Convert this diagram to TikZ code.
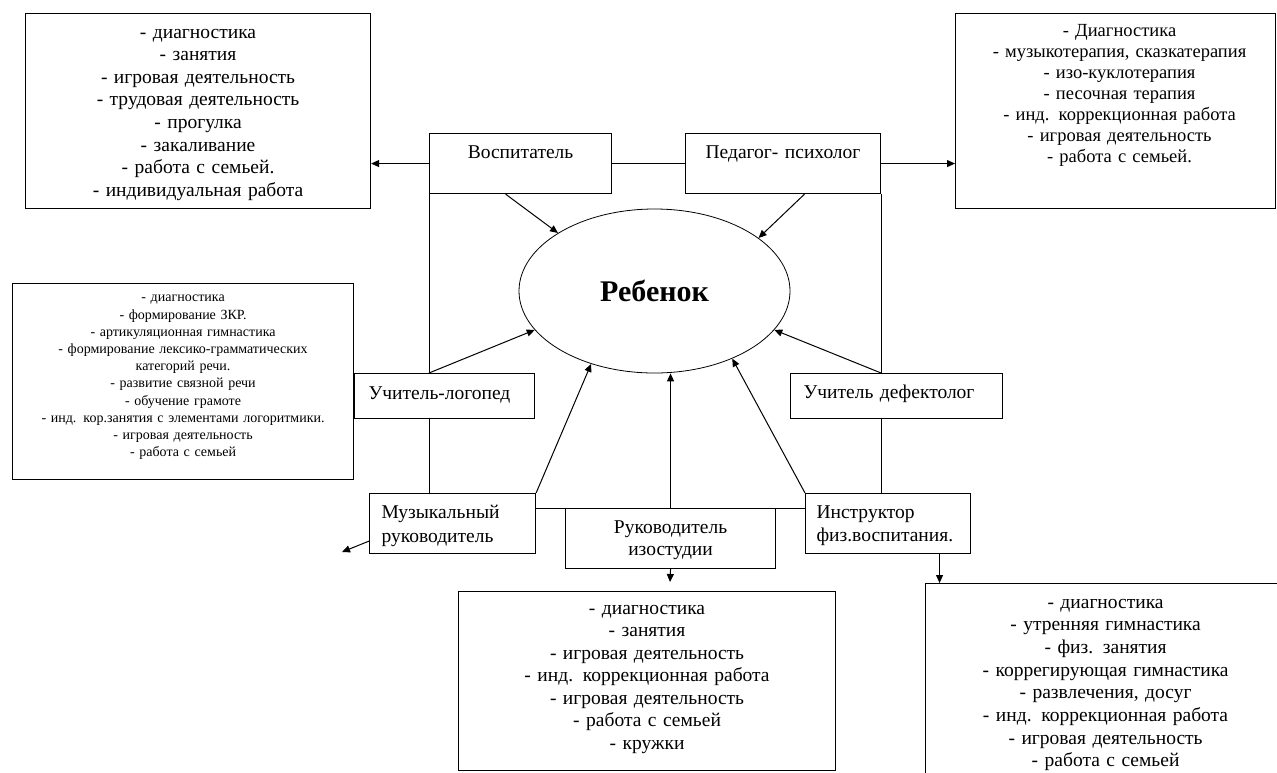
\documentclass[tikz,border=0pt]{standalone}
\usepackage{fontspec}
\setmainfont{Liberation Serif}
\usetikzlibrary{arrows.meta,shapes.geometric,calc}
\begin{document}
\begin{tikzpicture}[x=1pt,y=-1pt,
  every node/.style={font=\fontsize{19.5}{22.6}\selectfont},
  box/.style={draw, line width=1.1pt, inner sep=0pt, anchor=north west},
  conn/.style={line width=1pt},
  arr/.style={line width=1pt, -{Triangle[length=8pt,width=7pt]}},
]
\useasboundingbox (0,0) rectangle (1277,772);
\clip (0,0) rectangle (1277,772);
\fill[white] (0,0) rectangle (1277,772);

% list boxes
\node[box, align=center, text width=345pt, text height=24.5pt, text depth=170.5pt] (tl) at (25,13)
 {- диагностика\\ - занятия\\ - игровая деятельность\\ - трудовая деятельность\\ - прогулка\\ - закаливание\\ - работа с семьей.\\ - индивидуальная работа};
\node[box, align=center, text width=320pt, text height=23pt, text depth=172pt, font=\fontsize{18.5}{21}\selectfont] (tr) at (955,13)
 {\hspace*{8pt}- Диагностика\\ \hspace*{8pt}- музыкотерапия, сказкатерапия\\ \hspace*{8pt}- изо-куклотерапия\\ \hspace*{8pt}- песочная терапия\\ \hspace*{8pt}- инд. коррекционная работа\\ \hspace*{8pt}- игровая деятельность\\ \hspace*{8pt}- работа с семьей.};
\node[box, align=center, text width=341pt, text height=18.3pt, text depth=177.7pt, font=\fontsize{14}{17.2}\selectfont] (lb) at (12,283)
 {- диагностика\\ - формирование ЗКР.\\ - артикуляционная гимнастика\\ - формирование лексико-грамматических\\ категорий речи.\\ - развитие связной речи\\ - обучение грамоте\\ - инд. кор.занятия с элементами логоритмики.\\ - игровая деятельность\\ - работа с семьей};
\node[box, align=center, text width=377pt, text height=22.8pt, text depth=156.2pt, font=\fontsize{19.5}{22.45}\selectfont] (bm) at (458,591)
 {- диагностика\\ - занятия\\ - игровая деятельность\\ - инд. коррекционная работа\\ - игровая деятельность\\ - работа с семьей\\ - кружки};
\node[box, align=center, text width=360pt, text height=24.8pt, text depth=185.2pt, font=\fontsize{19.5}{22.63}\selectfont] (br) at (925,583)
 {- диагностика\\ - утренняя гимнастика\\ - физ. занятия\\ - коррегирующая гимнастика\\ - развлечения, досуг\\ - инд. коррекционная работа\\ - игровая деятельность\\ - работа с семьей};

% staff boxes
\node[box, align=center, text width=182pt, text height=25pt, text depth=35pt] (vosp) at (429,133) {Воспитатель};
\node[box, align=center, text width=195pt, text height=25pt, text depth=35pt] (ped) at (685,133) {Педагог- психолог};
\node[box, align=left, inner xsep=14pt, text width=152pt, text height=26pt, text depth=19pt] (logoped) at (354,373) {Учитель-логопед};
\node[box, align=left, inner xsep=13pt, text width=186pt, text height=25pt, text depth=20pt] (def) at (790,373) {Учитель дефектолог};
\node[box, align=left, inner xsep=12pt, text width=142pt, text height=25pt, text depth=35pt, font=\fontsize{19.5}{23.5}\selectfont] (muz) at (369,493) {Музыкальный\\ руководитель};
\node[box, align=center, text width=210pt, text height=25pt, text depth=35pt, font=\fontsize{19.5}{22}\selectfont] (ruk) at (565,508) {Руководитель\\ изостудии};
\node[box, align=left, inner xsep=11pt, text width=143pt, text height=25pt, text depth=35pt, font=\fontsize{19.5}{22.5}\selectfont] (instr) at (805,493) {Инструктор\\ физ.воспитания.};

% centre
\node[draw, ellipse, line width=0.8pt, minimum width=271pt, minimum height=164pt, inner sep=0pt,
      font=\fontsize{30}{36}\selectfont\bfseries] (child) at (654.5,291) {Ребенок};

% connectors
\draw[arr] (vosp.west) -- (vosp.west -| tl.east);
\draw[conn] (vosp.east) -- (ped.west);
\draw[arr] (ped.east) -- (ped.east -| tr.west);
\draw[arr] ([xshift=-15pt]vosp.south) -- (child.149);
\draw[arr] ([xshift=21.5pt]ped.south) -- (child.27);
\draw[conn] (vosp.south west) -- (vosp.south west |- logoped.north);
\draw[conn] (logoped.south -| vosp.south west) -- (vosp.south west |- muz.north);
\draw[conn] (ped.south east) -- (ped.south east |- def.north);
\draw[conn] (def.south -| ped.south east) -- (ped.south east |- instr.north);
\draw[arr] (vosp.south west |- logoped.north) -- (child.198);
\draw[arr] (ped.south east |- def.north) -- (child.342);
\draw[arr] (muz.north east) -- (child.229);
\draw[arr] (ruk.north) -- (ruk.north |- child.south);
\draw[arr] (instr.north west) -- (child.319);
\draw[conn] (ruk.north -| muz.east) -- (ruk.north -| instr.west);
\coordinate (muzend) at (342,552);
\draw[arr] ([yshift=13pt]muz.south west) -- (muzend);
\coordinate (rukend) at (670,582);
\draw[arr] (ruk.south) -- (rukend);
\draw[arr] ([xshift=51.5pt]instr.south) -- ([xshift=51.5pt]instr.south |- br.north);
\end{tikzpicture}
\end{document}
